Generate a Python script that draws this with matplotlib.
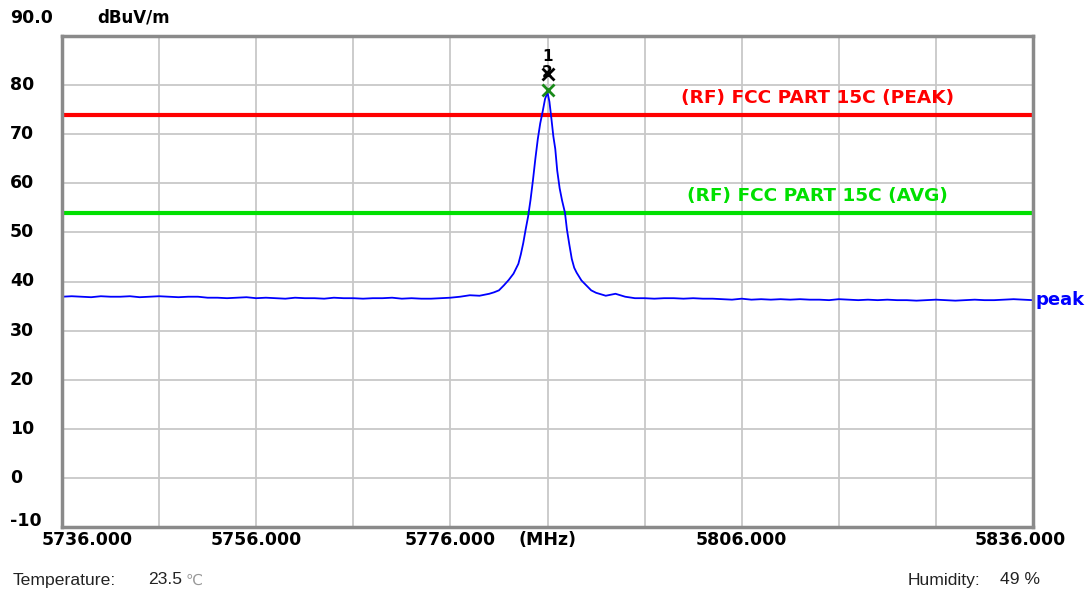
import numpy as np
import matplotlib
matplotlib.use('Agg')
import matplotlib.pyplot as plt
from matplotlib import transforms

# frequency range / axis
x_min, x_max = 5736.0, 5836.0
y_min, y_max = -10, 90

# noise floor left of the carrier, 1 MHz steps from 5736
floor_left_start = 5736
floor_left = [36.9, 37.0, 36.9, 36.8, 37.0, 36.9, 36.9, 37.0, 36.8, 36.9,
              37.0, 36.9, 36.8, 36.9, 36.9, 36.7, 36.7, 36.6, 36.7, 36.8,
              36.6, 36.7, 36.6, 36.5, 36.7, 36.6, 36.6, 36.5, 36.7, 36.6,
              36.6, 36.5, 36.6, 36.6, 36.7, 36.5, 36.6, 36.5, 36.5, 36.6,
              36.7, 36.9, 37.2, 37.1]

# carrier region
peak_freq = [5780.0, 5780.5, 5781.0, 5781.5, 5782.0, 5782.5, 5783.0, 5783.25,
             5783.5, 5783.75, 5784.0, 5784.25, 5784.5, 5784.75, 5785.0,
             5785.25, 5785.5, 5785.75, 5786.0, 5786.2, 5786.4, 5786.6, 5786.8,
             5787.0, 5787.25, 5787.5, 5787.8, 5788.0, 5788.25, 5788.5,
             5788.75, 5789.0, 5789.5, 5790.0, 5790.5, 5791.0]
peak_level = [37.5, 37.8, 38.2, 39.2, 40.3, 41.6, 43.6, 45.5,
              47.8, 50.6, 53.2, 56.6, 60.6, 65.0, 69.0,
              72.2, 74.6, 77.2, 78.5, 76.6, 73.2, 69.6, 67.0,
              62.6, 59.0, 56.5, 54.0, 50.6, 47.5, 44.6,
              42.8, 41.8, 40.2, 39.2, 38.2, 37.7]

# noise floor right of the carrier, 1 MHz steps from 5792
floor_right_start = 5792
floor_right = [37.1, 37.5, 36.9, 36.6, 36.6, 36.5, 36.6, 36.6, 36.5, 36.6,
               36.5, 36.5, 36.4, 36.3, 36.5, 36.3, 36.4, 36.3, 36.4, 36.3,
               36.4, 36.3, 36.3, 36.2, 36.4, 36.3, 36.2, 36.3, 36.2, 36.3,
               36.2, 36.2, 36.1, 36.2, 36.3, 36.2, 36.1, 36.2, 36.3, 36.2,
               36.2, 36.3, 36.4, 36.3, 36.2]

# limit lines
limit_peak = 74.0
limit_avg = 54.0

# markers
marker_freq = [5786.0, 5786.0]
marker_level = [82.3, 79.0]
marker_name = ['1', '2']
marker_color = ['black', '#1a8a1a']

xtick_vals = [5736, 5756, 5776, 5786, 5806, 5836]
xtick_text = ['5736.000', '5756.000', '5776.000', '(MHz)', '5806.000', '5836.000']
ytick_vals = list(range(-10, 91, 10))

freq = np.concatenate([floor_left_start + np.arange(len(floor_left)),
                       peak_freq,
                       floor_right_start + np.arange(len(floor_right))])
level = np.concatenate([floor_left, peak_level, floor_right])

fig = plt.figure(figsize=(10.92, 5.96), dpi=100)
ax = fig.add_axes([62 / 1092, 1 - 527 / 596, 971 / 1092, 491 / 596])
ax.set_xlim(x_min, x_max)
ax.set_ylim(y_min, y_max)

ax.set_xticks(np.arange(x_min, x_max + 1, 10))
ax.set_yticks(ytick_vals)
ax.grid(color='#c8c8c8', linewidth=1.3)
ax.tick_params(length=0, labelbottom=False, labelleft=False)
for s in ax.spines.values():
    s.set_color('#8a8a8a')
    s.set_linewidth(2.5)

ax.axhline(limit_peak, color='#ff0000', linewidth=3)
ax.axhline(limit_avg, color='#00e000', linewidth=3)
ax.plot(freq, level, color='#0000ff', linewidth=1.3)

bold = dict(family='DejaVu Sans', fontweight='bold')
ax.text(5813.8, limit_peak + 1.6, '(RF) FCC PART 15C (PEAK)', color='#ff0000',
        fontsize=13.3, ha='center', va='bottom', **bold)
ax.text(5813.8, limit_avg + 1.6, '(RF) FCC PART 15C (AVG)', color='#00e000',
        fontsize=13.3, ha='center', va='bottom', **bold)

for f, l, n, c in zip(marker_freq, marker_level, marker_name, marker_color):
    ax.plot(f, l, marker='x', color=c, markersize=8, markeredgewidth=2)
    ax.annotate(n, (f, l), xytext=(0, 7), textcoords='offset points',
                ha='center', va='bottom', fontsize=11, **bold)

ax.annotate('peak', (x_max, level[-1]), xytext=(2, 0), textcoords='offset points',
            color='#0000ff', fontsize=13, ha='left', va='center',
            annotation_clip=False, **bold)

# y labels at left edge of figure
ytrans = transforms.blended_transform_factory(fig.transFigure, ax.transData)
for v in ytick_vals[:-1]:
    dy = 0
    if v == -10:
        dy = 6
    t = transforms.offset_copy(ytrans, fig=fig, x=0, y=dy, units='dots')
    fig.text(10 / 1092, v, str(v), transform=t, ha='left', va='center',
             fontsize=12.5, **bold)
fig.text(10 / 1092, 1 - 18 / 596, '90.0', ha='left', va='center', fontsize=12.5, **bold)
fig.text(97 / 1092, 1 - 18 / 596, 'dBuV/m', ha='left', va='center', fontsize=12, **bold)

# x labels under the axis
xtrans = transforms.blended_transform_factory(ax.transData, fig.transFigure)
for v, s in zip(xtick_vals, xtick_text):
    dx = 0
    if v == x_min:
        dx = 25
    elif v == x_max:
        dx = -13
    t = transforms.offset_copy(xtrans, fig=fig, x=dx, y=0, units='dots')
    fig.text(v, 1 - 540 / 596, s, transform=t, ha='center', va='center',
             fontsize=12.5, **bold)

normal = dict(family='Liberation Sans', color='#222222', fontsize=12.6)
fig.text(13 / 1092, 1 - 580 / 596, 'Temperature:', ha='left', va='center', **normal)
fig.text(148 / 1092, 1 - 580 / 596, '23.5', ha='left', va='center', **normal)
fig.text(186 / 1092, 1 - 580 / 596, '\u2103', ha='left', va='center',
         family='DejaVu Sans', color='#999999', fontsize=11)
fig.text(908 / 1092, 1 - 580 / 596, 'Humidity:', ha='left', va='center', **normal)
fig.text(1000 / 1092, 1 - 580 / 596, '49 %', ha='left', va='center', **normal)

fig.savefig('out.png', dpi=100)
